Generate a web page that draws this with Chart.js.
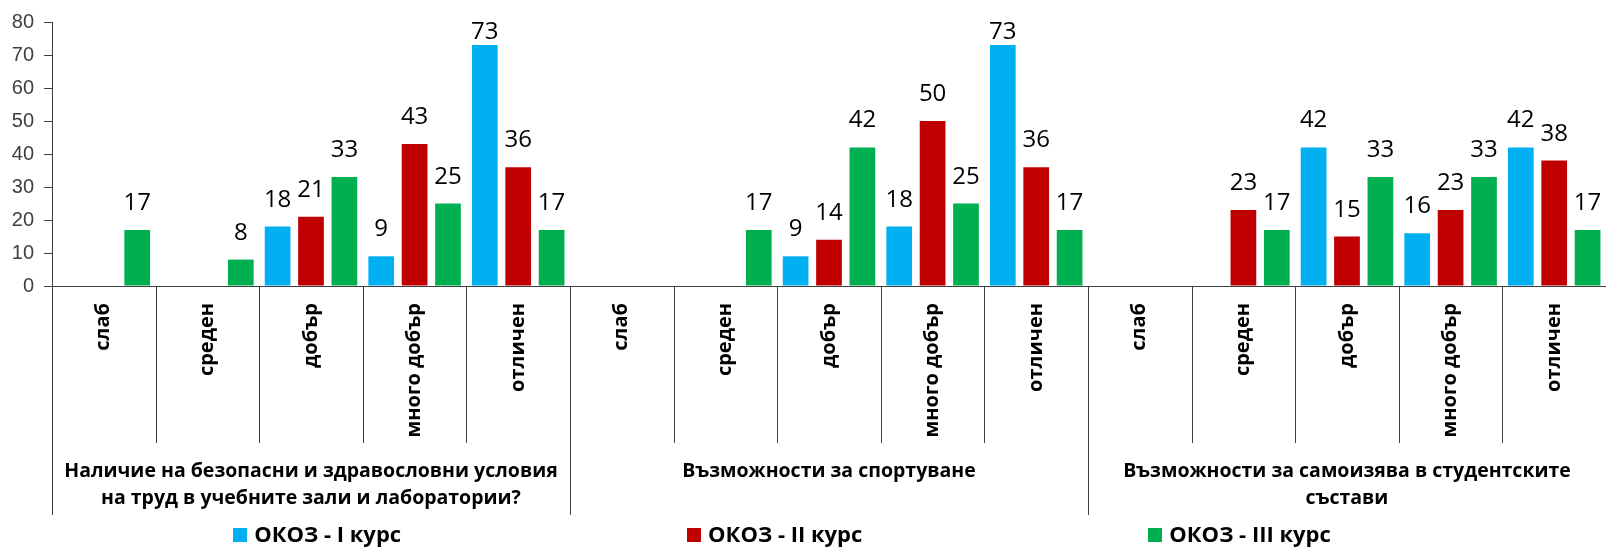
<!DOCTYPE html>
<html>
<head>
<meta charset="utf-8">
<script src="https://cdn.jsdelivr.net/npm/chart.js@4/dist/chart.umd.min.js"></script>
<style>
  html, body { margin: 0; padding: 0; background: #ffffff; }
  canvas { display: block; }
</style>
</head>
<body>
<canvas id="chart" width="1606" height="547"></canvas>
<script>
// Survey questions (group labels, split into the lines they are drawn on)
const groups = [
  ['Наличие на безопасни и здравословни условия', 'на труд в учебните зали и лаборатории?'],
  ['Възможности за спортуване'],
  ['Възможности за самоизява в студентските', 'състави']
];

// Rating scale used inside each group
const ratings = ['слаб', 'среден', 'добър', 'много добър', 'отличен'];

// Category labels: every rating for every question
const categories = groups.flatMap(() => ratings);

// Series names
const seriesNames = ['ОКОЗ - I курс', 'ОКОЗ - II курс', 'ОКОЗ - III курс'];
const seriesColors = ['#00B0F0', '#C00000', '#00B050'];

// Percentages per category (null = no answers)
const course1 = [null, null, 18, 9, 73,   null, null, 9, 18, 73,   null, null, 42, 16, 42];
const course2 = [null, null, 21, 43, 36,  null, null, 14, 50, 36,  null, 23, 15, 23, 38];
const course3 = [17, 8, 33, 25, 17,       null, 17, 42, 25, 17,    null, 17, 33, 33, 17];

// Value axis tick labels
const yTicks = [0, 10, 20, 30, 40, 50, 60, 70, 80];

const LINE = '#404040';
const BOLD = 'bold 20px "Open Sans"';

// Value labels above each bar, kept inside the plot area
const barValues = {
  id: 'barValues',
  afterDatasetsDraw(chart) {
    const { ctx, chartArea } = chart;
    ctx.save();
    ctx.font = '24px "Open Sans"';
    ctx.fillStyle = '#000000';
    ctx.textAlign = 'center';
    ctx.textBaseline = 'alphabetic';
    chart.data.datasets.forEach((ds, di) => {
      const meta = chart.getDatasetMeta(di);
      meta.data.forEach((bar, i) => {
        const v = ds.data[i];
        if (v === null || v === undefined) return;
        const y = Math.max(bar.y - 20, chartArea.top + 17);
        ctx.fillText(String(v), bar.x, y);
      });
    });
    ctx.restore();
  }
};

// Two-level category axis: rotated ratings, separators and question labels
const groupedAxis = {
  id: 'groupedAxis',
  afterDraw(chart) {
    const { ctx, chartArea, scales } = chart;
    const x = scales.x;
    const n = chart.data.labels.length;
    const step = x.getPixelForValue(1) - x.getPixelForValue(0);
    const first = x.getPixelForValue(0) - step / 2;
    const y0 = chartArea.bottom;

    ctx.save();
    ctx.strokeStyle = LINE;
    ctx.lineWidth = 1;
    for (let i = 0; i <= n; i++) {
      const px = Math.round(first + i * step) + 0.5;
      const long = i % ratings.length === 0;
      ctx.beginPath();
      ctx.moveTo(px, y0);
      ctx.lineTo(px, y0 + (long ? 229 : 157));
      ctx.stroke();
    }

    // rating labels, reading bottom to top
    ctx.font = BOLD;
    ctx.fillStyle = '#000000';
    ctx.textAlign = 'right';
    ctx.textBaseline = 'alphabetic';
    chart.data.labels.forEach((lab, i) => {
      const cx = x.getPixelForValue(i);
      ctx.save();
      ctx.translate(cx + 5.5, y0 + 17);
      ctx.rotate(-Math.PI / 2);
      ctx.fillText(lab, 0, 0);
      ctx.restore();
    });

    // question labels centred under their five ratings
    ctx.font = 'bold 19.5px "Open Sans"';
    ctx.textAlign = 'center';
    groups.forEach((lines, g) => {
      const a = first + g * ratings.length * step;
      const b = a + ratings.length * step;
      const cx = (a + b) / 2;
      lines.forEach((t, li) => {
        ctx.fillText(t, cx, y0 + 191 + li * 27);
      });
    });
    ctx.restore();
  }
};

// Legend row along the bottom
const legendRow = {
  id: 'legendRow',
  afterDraw(chart) {
    const { ctx } = chart;
    const box = 14, gapText = 7, gapItem = 286, baseline = 542, centre = 782;
    ctx.save();
    ctx.font = 'bold 22px "Open Sans"';
    ctx.textAlign = 'left';
    ctx.textBaseline = 'alphabetic';
    const items = chart.data.datasets.map(ds => ({
      text: ds.label,
      color: ds.backgroundColor,
      w: box + gapText + ctx.measureText(ds.label).width
    }));
    const total = items.reduce((s, it) => s + it.w, 0) + gapItem * (items.length - 1);
    let cx = centre - total / 2;
    items.forEach(it => {
      ctx.fillStyle = it.color;
      ctx.fillRect(Math.round(cx), baseline - box, box, box);
      ctx.fillStyle = '#000000';
      ctx.fillText(it.text, cx + box + gapText, baseline);
      cx += it.w + gapItem;
    });
    ctx.restore();
  }
};

const seriesData = [course1, course2, course3];

new Chart(document.getElementById('chart'), {
  type: 'bar',
  data: {
    labels: categories,
    datasets: seriesNames.map((name, i) => ({
      label: name,
      data: seriesData[i],
      backgroundColor: seriesColors[i],
      borderWidth: 0,
      categoryPercentage: 0.967,
      barPercentage: 0.77
    }))
  },
  options: {
    responsive: false,
    animation: false,
    layout: { padding: { left: 12, right: 0, top: 18, bottom: 261 } },
    plugins: {
      legend: { display: false },
      tooltip: { enabled: false }
    },
    scales: {
      x: {
        grid: { display: false, drawTicks: false },
        ticks: { display: false },
        border: { display: true, color: LINE, width: 1 }
      },
      y: {
        min: 0,
        max: 80,
        afterBuildTicks(scale) {
          scale.ticks = yTicks.map(v => ({ value: v }));
        },
        afterFit(scale) {
          scale.width = 40;
        },
        ticks: {
          padding: 10,
          color: '#404040',
          font: { family: '"Liberation Sans", Arial, sans-serif', size: 20 }
        },
        grid: { drawOnChartArea: false, drawTicks: true, tickLength: 8, color: LINE },
        border: { display: true, color: LINE, width: 1 }
      }
    }
  },
  plugins: [barValues, groupedAxis, legendRow]
});
</script>
</body>
</html>
